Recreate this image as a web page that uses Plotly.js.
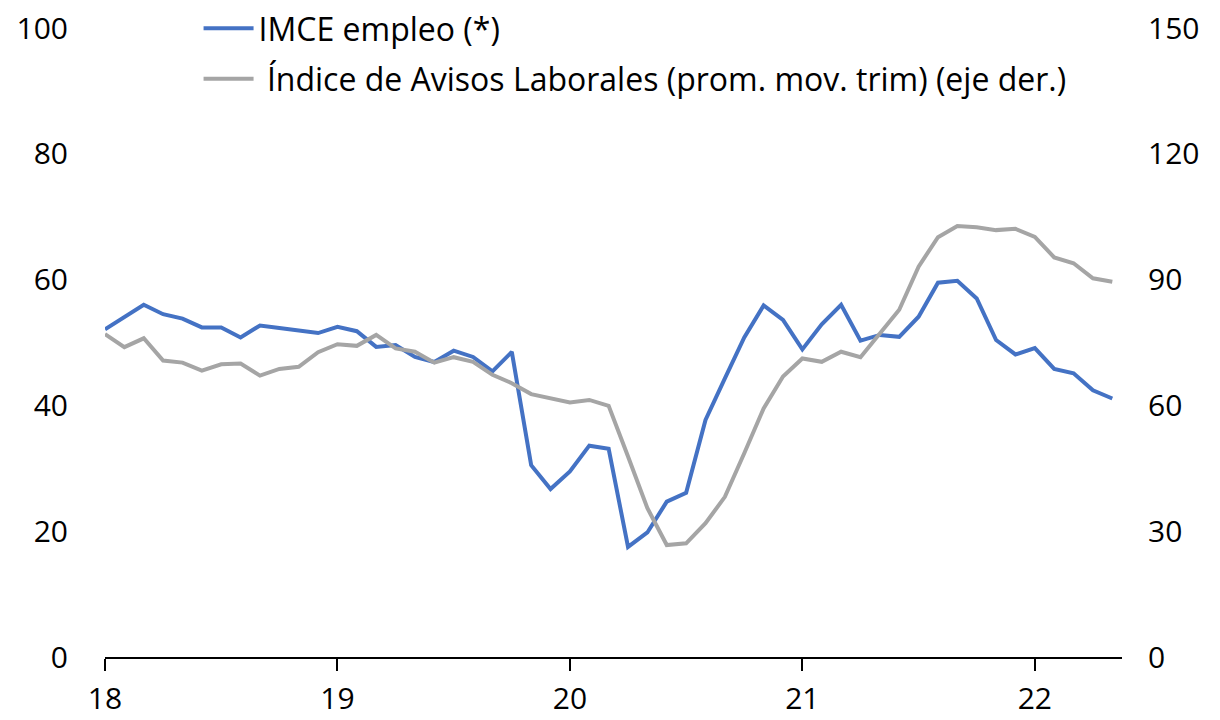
<!DOCTYPE html>
<html>
<head>
<meta charset="utf-8">
<script src="https://cdn.plot.ly/plotly-3.0.1.min.js"></script>
<style>html,body{margin:0;padding:0;background:#fff;}#chart{width:1220px;height:720px;}</style>
</head>
<body>
<div id="chart"></div>
<script>
// Monthly data, Jan 2018 - May 2022
const startYear = 18;
const nMonths = 53;
const imceEmpleo = [52.1,54.1,56.0,54.5,53.8,52.4,52.4,50.8,52.7,52.3,51.9,51.5,
  52.5,51.8,49.3,49.6,47.7,46.9,48.7,47.7,45.4,48.5,30.5,26.7,
  29.5,33.6,33.1,17.5,19.8,24.7,26.1,37.7,44.3,50.8,55.9,53.6,
  48.9,52.9,56.0,50.3,51.2,50.9,54.1,59.5,59.8,57.0,50.4,48.1,
  49.1,45.8,45.1,42.4,41.1];
const avisosLaborales = [77.0,73.9,76.0,70.7,70.2,68.3,69.8,70.0,67.1,68.7,69.2,72.7,
  74.6,74.2,76.8,73.6,72.8,70.2,71.5,70.4,67.3,65.3,62.7,61.7,
  60.7,61.3,59.9,47.8,35.5,26.7,27.1,31.9,38.2,48.6,59.3,66.9,
  71.2,70.4,72.8,71.5,77.2,82.8,93.1,100.1,102.8,102.5,101.8,102.1,
  100.2,95.3,93.9,90.3,89.5];
const xTickVals = [18,19,20,21,22];
const xTickText = ['18','19','20','21','22'];
const leftTicks = [0,20,40,60,80,100];
const rightTicks = [0,30,60,90,120,150];
const seriesNames = ['IMCE empleo (*)', '\u00a0Índice de Avisos Laborales (prom. mov. trim) (eje der.)'];

const xs = [];
for (let i = 0; i < nMonths; i++) xs.push(startYear + i / 12);

const tickFont = {family: '"Open Sans", sans-serif', size: 30, color: '#000'};
const legendFont = {family: '"Open Sans", sans-serif', size: 32, color: '#000'};

const traces = [
  {x: xs, y: imceEmpleo, name: seriesNames[0], type: 'scatter', mode: 'lines',
   line: {color: '#4472C4', width: 4}, yaxis: 'y', legendgroup: 'a'},
  {x: xs, y: avisosLaborales, name: seriesNames[1], type: 'scatter', mode: 'lines',
   line: {color: '#A5A5A5', width: 4}, yaxis: 'y2', legendgroup: 'b'}
];

const layout = {
  width: 1220, height: 720,
  margin: {l: 105, r: 98, t: 28, b: 63, autoexpand: false},
  paper_bgcolor: '#fff', plot_bgcolor: '#fff',
  font: tickFont,
  showlegend: true,
  legend: {x: 0.092, y: 1.043, xanchor: 'left', yanchor: 'top', bgcolor: 'rgba(0,0,0,0)',
           traceorder: 'grouped', tracegroupgap: 6, itemwidth: 50, font: legendFont},
  xaxis: {range: [18, 22.375], tickvals: xTickVals, ticktext: xTickText,
          showgrid: false, zeroline: false, showline: true, linecolor: '#000', linewidth: 2,
          ticks: 'outside', ticklen: 12, tickwidth: 2, tickcolor: '#000',
          ticklabelstandoff: 2, tickfont: tickFont},
  yaxis: {range: [0, 100], tickvals: leftTicks, showgrid: false, zeroline: false,
          showline: false, ticks: '', ticklabelstandoff: 36, tickfont: tickFont},
  yaxis2: {range: [0, 150], tickvals: rightTicks, overlaying: 'y', side: 'right',
           showgrid: false, zeroline: false, showline: false, ticks: '',
           ticklabelstandoff: 25, tickfont: tickFont}
};

Plotly.newPlot('chart', traces, layout, {displayModeBar: false, staticPlot: true});
</script>
</body>
</html>
